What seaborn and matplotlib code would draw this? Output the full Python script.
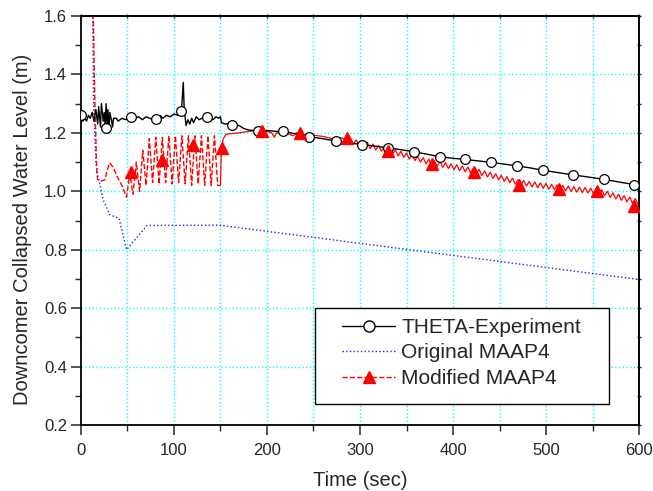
import numpy as np
import pandas as pd
import seaborn as sns
import matplotlib
matplotlib.use("Agg")
import matplotlib.pyplot as plt
from matplotlib.lines import Line2D
from matplotlib.patches import Rectangle
from matplotlib.ticker import MultipleLocator

# THETA experiment (black line + open circles)
exp_t = [0, 2, 4, 6, 8, 10, 12, 14, 16, 18, 19, 21, 22, 24, 25, 26, 27, 28, 29, 30, 31, 33, 34, 35,
         38, 40, 44, 48, 52, 55, 58, 62, 66, 70, 74, 78, 81, 85, 88, 92, 96, 100, 104, 108, 110,
         111, 113, 115, 117, 119, 121, 124, 127, 130, 133, 136, 139, 142, 145, 148, 150, 151, 155,
         160, 165, 170, 175, 180, 185, 190, 200, 210, 217, 225, 235, 245, 260, 274, 290, 302, 315,
         330, 345, 358, 372, 386, 400, 413, 427, 441, 455, 469, 483, 497, 513, 529, 545, 562, 578,
         595, 600]
exp_y = [1.26, 1.24, 1.25, 1.24, 1.26, 1.25, 1.27, 1.24, 1.28, 1.23, 1.29, 1.22, 1.30, 1.24, 1.27,
         1.22, 1.30, 1.23, 1.28, 1.20, 1.27, 1.24, 1.22, 1.25, 1.25, 1.24, 1.25, 1.245, 1.255, 1.256,
         1.25, 1.255, 1.245, 1.255, 1.25, 1.245, 1.247, 1.26, 1.25, 1.26, 1.255, 1.265, 1.26, 1.274,
         1.373, 1.28, 1.225, 1.245, 1.23, 1.25, 1.235, 1.255, 1.245, 1.25, 1.255, 1.25, 1.26, 1.245,
         1.255, 1.25, 1.255, 1.235, 1.23, 1.232, 1.228, 1.225, 1.215, 1.21, 1.208, 1.208, 1.208,
         1.205, 1.206, 1.2, 1.195, 1.187, 1.18, 1.172, 1.165, 1.16, 1.155, 1.149, 1.142, 1.135,
         1.127, 1.118, 1.113, 1.109, 1.104, 1.099, 1.093, 1.087, 1.08, 1.072, 1.064, 1.056, 1.049,
         1.041, 1.032, 1.023, 1.02]
exp_mark_t = [0, 27, 54, 81, 108, 135, 162, 190, 217, 245, 274, 302, 330, 358, 386, 413, 441,
              469, 497, 529, 562, 595]
exp_mark_y = [1.26, 1.217, 1.256, 1.247, 1.274, 1.253, 1.228, 1.208, 1.206, 1.187, 1.172, 1.160,
              1.149, 1.135, 1.118, 1.109, 1.099, 1.087, 1.072, 1.056, 1.041, 1.023]

# Original MAAP4 (blue dotted)
orig_t = [12, 13.5, 16, 19, 24, 31, 41, 49, 71, 149, 600]
orig_y = [1.8, 1.3, 1.1, 1.04, 0.97, 0.92, 0.907, 0.80, 0.883, 0.884, 0.698]

# Modified MAAP4 (red), early oscillating part drawn dashed
mod1_t = [12, 15, 17, 18, 22, 26, 28, 31, 35, 39, 44, 49, 52.5, 56, 59.5, 63, 66.5, 70, 73.5, 77,
          80.5, 84, 87.5, 91, 94.5, 98, 101.5, 105, 108.5, 112, 115.5, 119, 122.5, 126, 129.5,
          133, 136.5, 140, 143.5, 147, 150]
mod1_y = [1.8, 1.3, 1.06, 1.04, 1.035, 1.04, 1.07, 1.097, 1.08, 1.05, 1.02, 0.98, 1.06, 0.99,
          1.10, 1.00, 1.14, 1.02, 1.18, 1.03, 1.185, 1.025, 1.185, 1.03, 1.19, 1.025, 1.19, 1.03,
          1.19, 1.025, 1.19, 1.02, 1.19, 1.025, 1.19, 1.02, 1.19, 1.02, 1.19, 1.02, 1.02]
mod2_t = [150, 151, 153, 156, 160, 170, 180, 190, 200, 205, 208, 210, 220, 228, 232, 240, 245,
          250, 260, 270, 280, 287,
          290, 293, 296, 299, 302, 305, 308, 311, 314, 317, 320, 323, 326, 329, 332, 335, 338,
          341, 344, 347, 350, 353, 356, 359, 362, 365, 368, 371, 374, 377, 380, 383, 386, 389,
          392, 395, 398, 401, 404, 407, 410, 413, 416, 419, 422, 425, 428, 431, 434, 437, 440,
          443, 446, 449, 452, 455, 458, 461, 464, 467, 470, 473, 476, 479, 482, 485, 488, 491,
          494, 497, 500, 503, 506, 509, 512, 515, 518, 521, 524, 527, 530, 533, 536, 539, 542,
          545, 548, 551, 554, 557, 560, 563, 566, 569, 572, 575, 578, 581, 584, 587, 590, 593,
          596, 599, 600]
mod2_y = [1.02, 1.15, 1.18, 1.195, 1.197, 1.2, 1.205, 1.208, 1.205, 1.2, 1.185, 1.2, 1.2, 1.19,
          1.2, 1.195, 1.185, 1.192, 1.188, 1.18, 1.183, 1.175,
          1.181, 1.161, 1.176, 1.156, 1.171, 1.151, 1.167, 1.146, 1.162, 1.141, 1.157, 1.137,
          1.152, 1.132, 1.147, 1.127, 1.142, 1.121, 1.137, 1.116, 1.131, 1.110, 1.126, 1.105,
          1.120, 1.100, 1.115, 1.094, 1.110, 1.089, 1.105, 1.085, 1.102, 1.082, 1.098, 1.078,
          1.094, 1.074, 1.091, 1.071, 1.087, 1.067, 1.083, 1.063, 1.080, 1.059, 1.075, 1.054,
          1.070, 1.049, 1.065, 1.044, 1.060, 1.039, 1.055, 1.034, 1.050, 1.029, 1.045, 1.024,
          1.040, 1.020, 1.037, 1.018, 1.034, 1.015, 1.032, 1.012, 1.029, 1.010, 1.027, 1.007,
          1.024, 1.005, 1.022, 1.003, 1.020, 1.001, 1.018, 0.999, 1.016, 0.997, 1.014, 0.996,
          1.013, 0.994, 1.011, 0.992, 1.009, 0.989, 1.005, 0.984, 1.000, 0.979, 0.995, 0.974,
          0.990, 0.969, 0.985, 0.964, 0.980, 0.959, 0.975, 0.954, 0.962]
mod_mark_t = [54, 87, 120, 152, 195, 236, 286, 330, 377, 423, 471, 514, 555, 595]
mod_mark_y = [1.066, 1.108, 1.16, 1.149, 1.208, 1.2, 1.181, 1.138, 1.095, 1.067, 1.021, 1.007,
              1.002, 0.95]

labels = ["THETA-Experiment", "Original MAAP4", "Modified MAAP4"]

sns.set_style("white")
plt.rcParams['font.family'] = ['Liberation Sans', 'DejaVu Sans']

fig = plt.figure(figsize=(6.53, 4.91), dpi=100)
ax = fig.add_axes([0.124, 0.1344, 0.8546, 0.833])

sns.lineplot(x=orig_t, y=orig_y, ax=ax, color='#2020ff', linestyle=':', linewidth=1.0,
             estimator=None, sort=False)
sns.lineplot(x=mod1_t, y=mod1_y, ax=ax, color='#ff0000', linestyle='--', linewidth=1.0,
             estimator=None, sort=False)
sns.lineplot(x=mod2_t, y=mod2_y, ax=ax, color='#ff0000', linestyle='-', linewidth=0.9,
             estimator=None, sort=False)
sns.lineplot(x=exp_t, y=exp_y, ax=ax, color='black', linewidth=1.0,
             estimator=None, sort=False)
ax.plot(exp_mark_t, exp_mark_y, linestyle='none', marker='o', markersize=7,
        markerfacecolor='white', markeredgecolor='black', markeredgewidth=0.9, zorder=5)
ax.plot(mod_mark_t, mod_mark_y, linestyle='none', marker='^', markersize=8,
        color='#ff0000', zorder=6)

ax.set_xlim(0, 600)
ax.set_ylim(0.2, 1.6)
ax.xaxis.set_major_locator(MultipleLocator(100))
ax.xaxis.set_minor_locator(MultipleLocator(50))
ax.yaxis.set_major_locator(MultipleLocator(0.2))
ax.yaxis.set_minor_locator(MultipleLocator(0.1))
ax.yaxis.set_major_formatter(plt.FuncFormatter(lambda v, p: f"{v:.1f}"))

ax.grid(False)
for xv in [50, 100, 150, 200, 250, 300, 350, 400, 450, 500, 550]:
    ax.axvline(xv, color='#00ffff', linestyle=':', linewidth=1.0, zorder=0)
for yv in [0.4, 0.6, 0.8, 1.0, 1.2, 1.4]:
    ax.axhline(yv, color='#00ffff', linestyle=':', linewidth=1.0, zorder=0)

for s in ax.spines.values():
    s.set_color('black')
    s.set_linewidth(1.3)
ax.tick_params(which='major', direction='out', length=7, width=1.1, labelsize=12,
               bottom=True, left=True, top=False, right=False)
ax.tick_params(axis='x', which='major', pad=6)
ax.tick_params(axis='y', which='major', pad=3)
ax.tick_params(which='minor', direction='out', length=4, width=1.0,
               bottom=True, left=True, top=False, right=False)

# small ticks on top and right edges
top = ax.secondary_xaxis('top')
top.xaxis.set_major_locator(MultipleLocator(50))
top.tick_params(direction='inout', length=3, width=1.0, labeltop=False)
right = ax.secondary_yaxis('right')
right.yaxis.set_major_locator(MultipleLocator(0.1))
right.tick_params(direction='inout', length=3, width=1.0, labelright=False)
for sec in (top, right):
    for s in sec.spines.values():
        s.set_linewidth(1.3)

ax.set_xlabel("Time (sec)", fontsize=14.5, labelpad=9)
ax.set_ylabel("Downcomer Collapsed Water Level (m)", fontsize=14.5)
ax.yaxis.set_label_coords(-0.088, 0.478)

# legend frame (wider padding than matplotlib's legend box allows)
ax.add_patch(Rectangle((0.4194, 0.0513), 0.5268, 0.2347, transform=ax.transAxes,
                       facecolor='white', edgecolor='black', linewidth=1.0, zorder=9))
handles = [
    Line2D([], [], color='black', linewidth=1.0, marker='o', markersize=8,
           markerfacecolor='white', markeredgecolor='black'),
    Line2D([], [], color='#2020ff', linestyle=':', linewidth=1.0),
    Line2D([], [], color='#ff0000', linestyle='--', linewidth=1.0, marker='^', markersize=9),
]
leg = ax.legend(handles, labels, loc='upper left', bbox_to_anchor=(0.4677, 0.2616),
                frameon=False, fontsize=15, handlelength=2.55,
                borderpad=0, labelspacing=0.31, handletextpad=0.3, borderaxespad=0)
leg.set_zorder(10)

plt.savefig('out.png', dpi=100)
